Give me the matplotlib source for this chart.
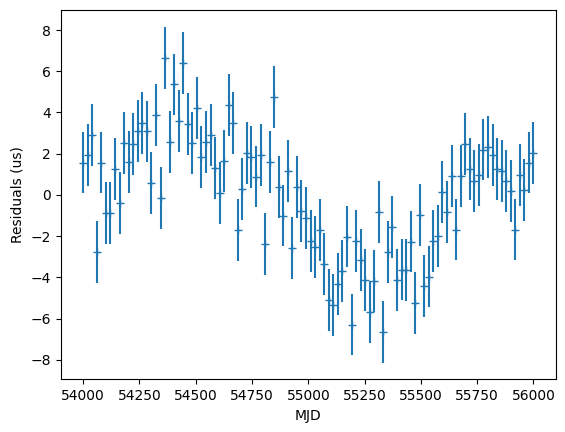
import numpy as np
import matplotlib
matplotlib.use('Agg')
import matplotlib.pyplot as plt

# MJD sampling: 100 evenly spaced epochs
mjd = np.linspace(54000, 56000, 100)

# timing residuals (us)
residuals = np.array([
    1.57, 1.95, 2.92, -2.75, 1.57, -0.87, -0.87, 1.27, -0.39, 2.52,
    1.60, 2.47, 3.12, 3.50, 3.08, 0.58, 3.88, -0.13, 6.66, 2.57,
    5.36, 3.60, 6.40, 3.44, 2.52, 4.22, 1.84, 2.57, 2.91, 1.32,
    0.10, 1.65, 4.36, 3.49, -1.70, 0.29, 2.04, 1.84, 0.89, 1.94,
    -2.37, 1.60, 4.75, 0.39, -1.00, 1.16, -2.56, 0.39, -0.79, -1.12,
    -2.22, -2.52, -1.72, -3.35, -5.08, -5.35, -4.32, -3.68, -2.02, -6.29,
    -2.22, -3.14, -4.12, -5.66, -4.16, -0.81, -6.63, -2.75, -1.54, -4.11,
    -3.62, -3.65, -2.26, -5.24, -0.96, -4.41, -3.96, -2.25, -1.99, 0.16,
    -0.81, 0.92, -1.68, 0.92, 2.47, 1.26, 0.68, 0.98, 2.20, 2.33,
    1.95, 1.26, 1.18, 0.66, 0.21, -1.68, 0.98, 0.24, 1.57, 2.02,
])
errors = np.full(100, 1.5)

fig = plt.figure(figsize=(5.65, 4.32), dpi=100)
fig.subplots_adjust(left=0.1074, right=0.984, top=0.977, bottom=0.122)
ax = fig.add_subplot(111)
ax.errorbar(mjd, residuals, yerr=errors, fmt='+')
ax.set_xlabel('MJD')
ax.set_ylabel('Residuals (us)')
fig.savefig('out.png', dpi=100)
